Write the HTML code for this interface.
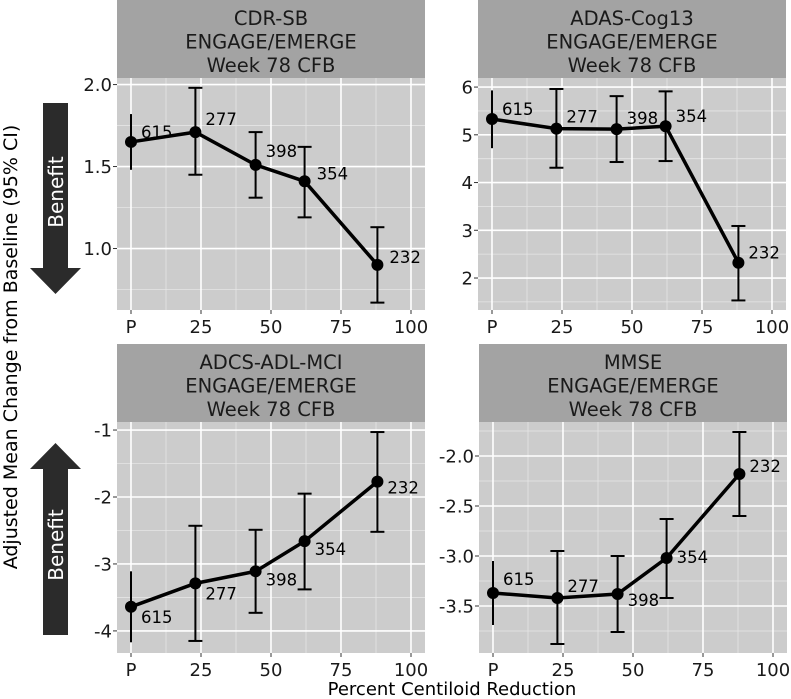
<!DOCTYPE html>
<html><head><meta charset="utf-8"><style>
body{margin:0;background:#fff;}
svg{display:block;font-family:"DejaVu Sans","Liberation Sans",sans-serif;}
</style></head><body>
<svg id="chart" width="791" height="699" xmlns="http://www.w3.org/2000/svg">
<text transform="translate(17,347) rotate(-90)" text-anchor="middle" font-size="19" fill="#000">Adjusted Mean Change from Baseline (95% CI)</text>
<text x="452" y="695" text-anchor="middle" font-size="18" fill="#000">Percent Centiloid Reduction</text>
<g>
<polygon points="43,103 68,103 68,268 81,268 55.5,294 30,268 43,268" fill="#2b2b2b"/>
<text transform="translate(63,192) rotate(-90)" text-anchor="middle" font-size="20" fill="#fff">Benefit</text>
</g>
<g>
<polygon points="43,635 68,635 68,469 81,469 55.5,443 30,469 43,469" fill="#2b2b2b"/>
<text transform="translate(63,545) rotate(-90)" text-anchor="middle" font-size="20" fill="#fff">Benefit</text>
</g>
</svg>
<script>
const xCats = [0, 23, 44.5, 62, 88];
const nLabels = ['615','277','398','354','232'];
const xTicks = [0,25,50,75,100];
const xTickLabels = ['P','25','50','75','100'];

const cdrMean = [1.65,1.71,1.51,1.41,0.90];
const cdrLo = [1.48,1.45,1.31,1.19,0.67];
const cdrHi = [1.82,1.98,1.71,1.62,1.13];
const cdrTicks = [1.0,1.5,2.0];
const cdrTickLabels = ['1.0','1.5','2.0'];

const adasMean = [5.33,5.13,5.12,5.18,2.32];
const adasLo = [4.72,4.31,4.43,4.45,1.53];
const adasHi = [5.93,5.96,5.81,5.91,3.09];
const adasTicks = [2,3,4,5,6];
const adasTickLabels = ['2','3','4','5','6'];

const adlMean = [-3.64,-3.29,-3.11,-2.66,-1.77];
const adlLo = [-4.17,-4.15,-3.73,-3.38,-2.52];
const adlHi = [-3.11,-2.43,-2.49,-1.95,-1.03];
const adlTicks = [-4,-3,-2,-1];
const adlTickLabels = ['-4','-3','-2','-1'];

const mmseMean = [-3.37,-3.42,-3.38,-3.02,-2.18];
const mmseLo = [-3.69,-3.88,-3.76,-3.42,-2.60];
const mmseHi = [-3.05,-2.95,-3.00,-2.63,-1.76];
const mmseTicks = [-3.5,-3.0,-2.5,-2.0];
const mmseTickLabels = ['-3.5','-3.0','-2.5','-2.0'];

const svg = document.getElementById('chart');
const NS = 'http://www.w3.org/2000/svg';
function mk(tag, attrs, parent){const e=document.createElementNS(NS,tag);for(const k in attrs)e.setAttribute(k,attrs[k]);parent.appendChild(e);return e;}

const panels = [
 {name:'cdr-sb',title:'CDR-SB',x0:117,x1:425,sy0:0,py0:78,py1:310,ymin:0.625,ymax:2.04,mean:cdrMean,lo:cdrLo,hi:cdrHi,ticks:cdrTicks,tl:cdrTickLabels,
  lab:[[10,-4],[10,-7],[10,-8],[12,-2],[12,-2]]},
 {name:'adas-cog13',title:'ADAS-Cog13',x0:478,x1:786,sy0:0,py0:78,py1:310,ymin:1.33,ymax:6.19,mean:adasMean,lo:adasLo,hi:adasHi,ticks:adasTicks,tl:adasTickLabels,
  lab:[[10,-4],[10,-6],[10,-5],[10,-4],[10,-4]]},
 {name:'adcs-adl-mci',title:'ADCS-ADL-MCI',x0:117,x1:425,sy0:344,py0:422,py1:653,ymin:-4.33,ymax:-0.88,mean:adlMean,lo:adlLo,hi:adlHi,ticks:adlTicks,tl:adlTickLabels,
  lab:[[10,16],[10,16],[10,14],[10,14],[10,12]]},
 {name:'mmse',title:'MMSE',x0:479,x1:787,sy0:344,py0:422,py1:653,ymin:-3.97,ymax:-1.66,mean:mmseMean,lo:mmseLo,hi:mmseHi,ticks:mmseTicks,tl:mmseTickLabels,
  lab:[[10,-8],[10,-6],[10,12],[10,5],[10,-2]]}
];

panels.forEach(p=>{
  const g = mk('g',{},svg);
  
  
  const xs = v => p.x0 + (v+5)/110*(p.x1-p.x0);
  const ys = v => p.py1 - (v-p.ymin)/(p.ymax-p.ymin)*(p.py1-p.py0);
  const strip = mk('rect',{x:p.x0,y:p.sy0,width:p.x1-p.x0,height:p.py0-p.sy0,fill:'#a3a3a3'},g);
  
  
  const cx=(p.x0+p.x1)/2;
  [p.title,'ENGAGE/EMERGE','Week 78 CFB'].forEach((t,i)=>{
    const tx = mk('text',{x:cx,y:p.sy0+25+i*23.5,'text-anchor':'middle','font-size':'19.5',fill:'#1a1a1a'},g);
    tx.textContent=t;
    
    
  });
  mk('rect',{x:p.x0,y:p.py0,width:p.x1-p.x0,height:p.py1-p.py0,fill:'#cccccc'},g);
  const step = p.ticks[1]-p.ticks[0];
  for(let v=p.ticks[0]-step/2; v<=p.ymax; v+=step){ if(v>=p.ymin) mk('line',{x1:p.x0,x2:p.x1,y1:ys(v),y2:ys(v),stroke:'#e6e6e6','stroke-width':0.8},g); }
  for(let v=12.5; v<100; v+=25) mk('line',{x1:xs(v),x2:xs(v),y1:p.py0,y2:p.py1,stroke:'#e6e6e6','stroke-width':0.8},g);
  p.ticks.forEach((v,i)=>{
    mk('line',{x1:p.x0,x2:p.x1,y1:ys(v),y2:ys(v),stroke:'#fff','stroke-width':1.6},g);
    mk('line',{x1:p.x0-4,x2:p.x0,y1:ys(v),y2:ys(v),stroke:'#333','stroke-width':1},g);
    const t=mk('text',{x:p.x0-5,y:ys(v)+6.5,'text-anchor':'end','font-size':'18',fill:'#1a1a1a'},g);
    t.textContent=p.tl[i];
    
    
  });
  xTicks.forEach((v,i)=>{
    mk('line',{x1:xs(v),x2:xs(v),y1:p.py0,y2:p.py1,stroke:'#fff','stroke-width':1.6},g);
    mk('line',{x1:xs(v),x2:xs(v),y1:p.py1,y2:p.py1+4,stroke:'#333','stroke-width':1},g);
    const t=mk('text',{x:xs(v),y:p.py1+23,'text-anchor':'middle','font-size':'18',fill:'#1a1a1a'},g);
    t.textContent=xTickLabels[i];
    
    
  });
  xCats.forEach((x,i)=>{
    const eb=mk('g',{stroke:'#000','stroke-width':2},g);
    
    
    const X=xs(x),w=i===0?0:7;
    mk('line',{x1:X,x2:X,y1:ys(p.lo[i]),y2:ys(p.hi[i])},eb);
    if(w){mk('line',{x1:X-w,x2:X+w,y1:ys(p.lo[i]),y2:ys(p.lo[i])},eb);mk('line',{x1:X-w,x2:X+w,y1:ys(p.hi[i]),y2:ys(p.hi[i])},eb);}
  });
  const line=mk('polyline',{points:xCats.map((x,i)=>xs(x)+','+ys(p.mean[i])).join(' '),fill:'none',stroke:'#000','stroke-width':3.5},g);
  
  
  xCats.forEach((x,i)=>{
    const c=mk('circle',{cx:xs(x),cy:ys(p.mean[i]),r:6,fill:'#000'},g);
    
    
    const t=mk('text',{x:xs(x)+p.lab[i][0],y:ys(p.mean[i])+p.lab[i][1],'font-size':'16.5',fill:'#000'},g);
    t.textContent=nLabels[i];
    
    
  });
});
</script>
</body></html>
